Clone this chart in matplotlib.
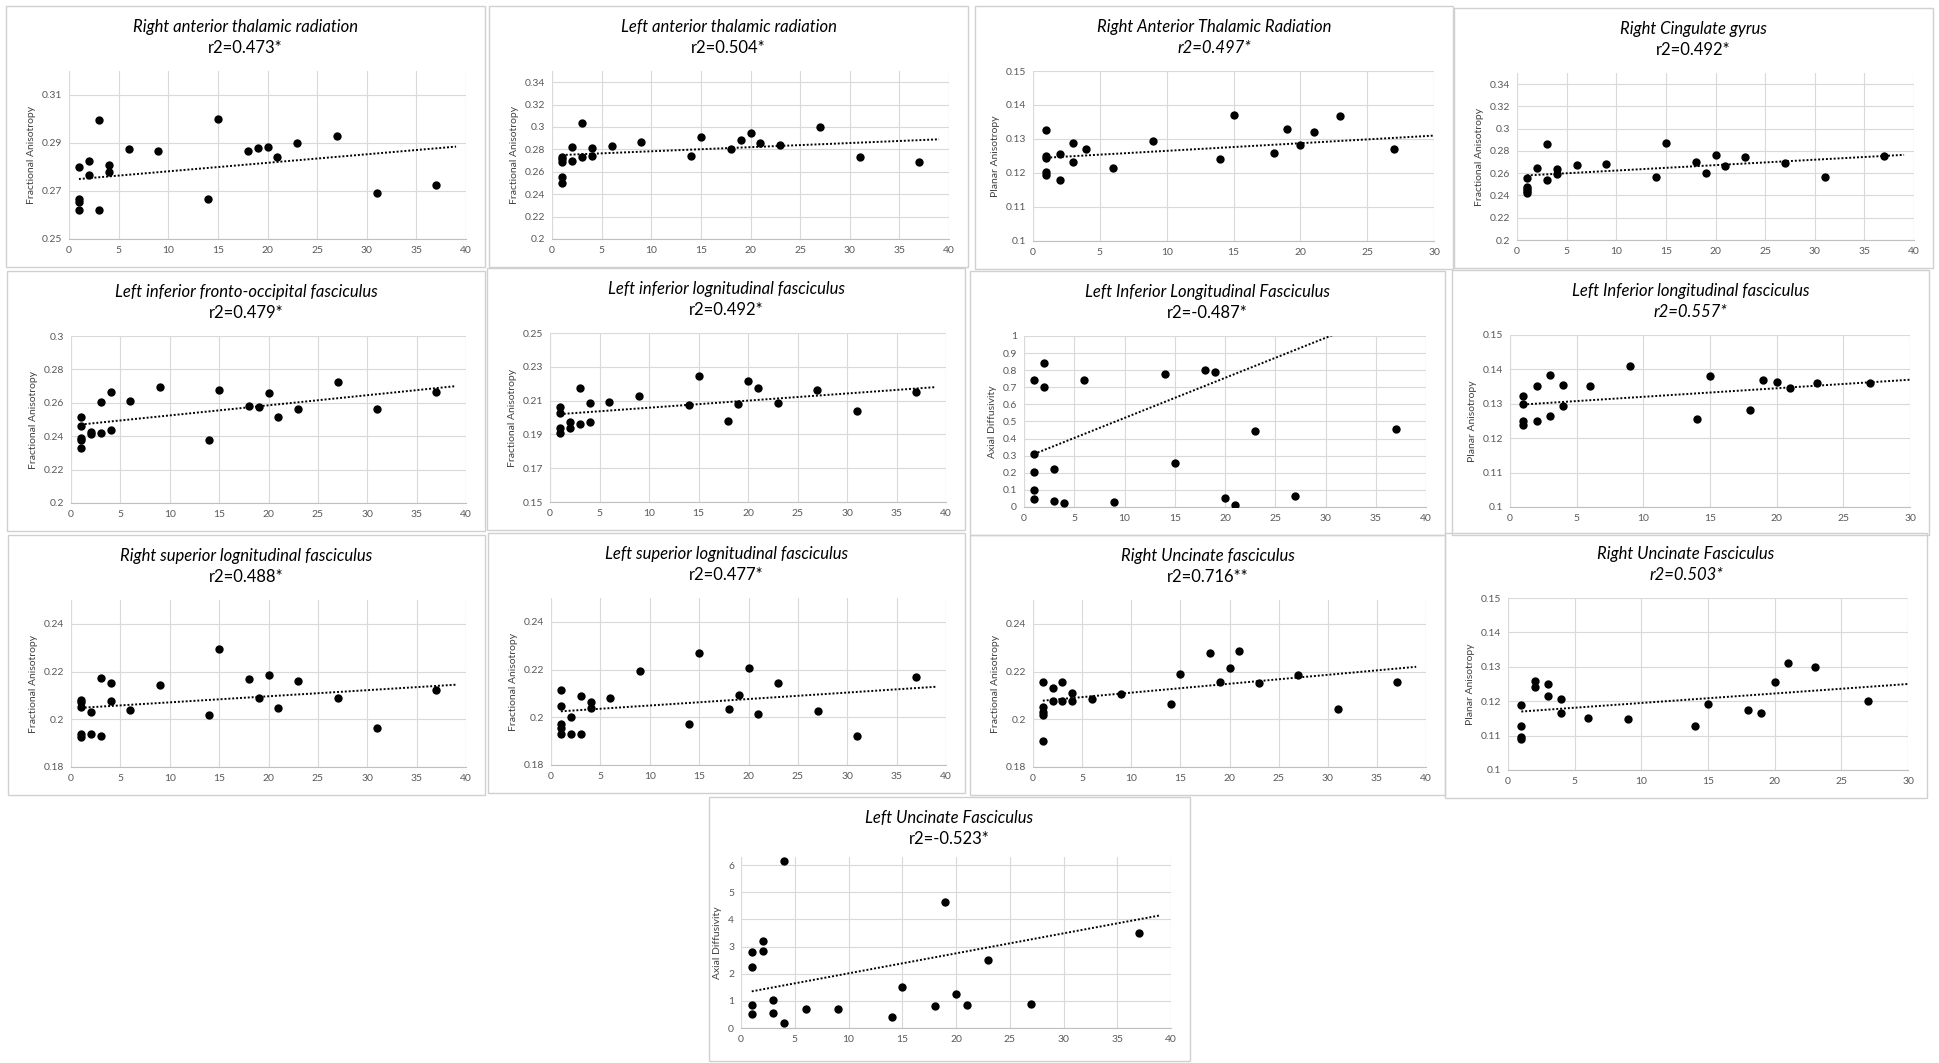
import numpy as np
import matplotlib
matplotlib.use("Agg")
import matplotlib.pyplot as plt
from matplotlib.patches import Rectangle

plt.rcParams['font.family'] = ['Lato', 'DejaVu Sans']

W, H = 1939, 1063

# ---- data ----
# 1 Right anterior thalamic radiation (FA)
x1 = [1, 1, 1, 1, 2, 2, 3, 3, 4, 4, 6, 9, 14, 15, 18, 19, 20, 21, 23, 27, 31, 37]
y1 = [0.280, 0.2665, 0.2655, 0.262, 0.2825, 0.2765, 0.2995, 0.262, 0.281, 0.278, 0.2875,
      0.2865, 0.2665, 0.300, 0.2865, 0.288, 0.2885, 0.284, 0.290, 0.293, 0.269, 0.2725]
# 2 Left anterior thalamic radiation (FA)
x2 = [1, 1, 1, 1, 1, 2, 2, 3, 3, 4, 4, 6, 9, 14, 15, 18, 19, 20, 21, 23, 27, 31, 37]
y2 = [0.273, 0.271, 0.269, 0.255, 0.250, 0.282, 0.270, 0.304, 0.273, 0.281, 0.274, 0.283,
      0.287, 0.274, 0.291, 0.280, 0.288, 0.295, 0.286, 0.284, 0.300, 0.273, 0.269]
# 3 Right Anterior Thalamic Radiation (PA)
x3 = [1, 1, 1, 1, 1, 2, 2, 3, 3, 4, 6, 9, 14, 15, 18, 19, 20, 21, 23, 27]
y3 = [0.1325, 0.125, 0.1245, 0.1202, 0.1193, 0.1255, 0.118, 0.1288, 0.1233, 0.127, 0.1215,
      0.1293, 0.1242, 0.137, 0.1258, 0.133, 0.1283, 0.1322, 0.1367, 0.127]
# 4 Right Cingulate gyrus (FA)
x4 = [1, 1, 1, 1, 1, 2, 3, 3, 4, 4, 6, 9, 14, 15, 18, 19, 20, 21, 23, 27, 31, 37]
y4 = [0.256, 0.248, 0.246, 0.244, 0.2425, 0.265, 0.2865, 0.2535, 0.2635, 0.259, 0.2675,
      0.2685, 0.257, 0.287, 0.270, 0.260, 0.2765, 0.2665, 0.275, 0.2695, 0.2565, 0.2755]
# 5 Left inferior fronto-occipital fasciculus (FA)
x5 = [1, 1, 1, 1, 1, 2, 2, 3, 3, 4, 4, 6, 9, 14, 15, 18, 19, 20, 21, 23, 27, 31, 37]
y5 = [0.2515, 0.246, 0.239, 0.238, 0.233, 0.2425, 0.2415, 0.2605, 0.242, 0.2665, 0.244,
      0.261, 0.2695, 0.2375, 0.2675, 0.258, 0.2575, 0.266, 0.2515, 0.256, 0.2725, 0.2565, 0.2665]
# 6 Left inferior lognitudinal fasciculus (FA)
x6 = [1, 1, 1, 1, 2, 2, 3, 3, 4, 4, 6, 9, 14, 15, 18, 19, 20, 21, 23, 27, 31, 37]
y6 = [0.2065, 0.2025, 0.194, 0.191, 0.1975, 0.194, 0.2175, 0.196, 0.2085, 0.1975, 0.209,
      0.2125, 0.2075, 0.2245, 0.198, 0.208, 0.2215, 0.2175, 0.2085, 0.2165, 0.204, 0.215]
# 7 Left Inferior Longitudinal Fasciculus (AD)
x7 = [1, 1, 1, 1, 1, 2, 2, 3, 3, 4, 6, 9, 14, 15, 18, 19, 20, 21, 23, 27, 37]
y7 = [0.74, 0.31, 0.205, 0.10, 0.045, 0.84, 0.70, 0.225, 0.035, 0.025, 0.74, 0.03, 0.775,
      0.26, 0.80, 0.79, 0.055, 0.01, 0.445, 0.065, 0.455]
# 8 Left Inferior longitudinal fasciculus (PA)
x8 = [1, 1, 1, 1, 2, 2, 3, 3, 4, 4, 6, 9, 14, 15, 18, 19, 20, 21, 23, 27]
y8 = [0.1323, 0.1298, 0.125, 0.1237, 0.1353, 0.125, 0.1384, 0.1265, 0.1355, 0.1293, 0.1353,
      0.141, 0.1255, 0.138, 0.1282, 0.1368, 0.1364, 0.1347, 0.136, 0.136]
# 9 Right superior lognitudinal fasciculus (FA)
x9 = [1, 1, 1, 1, 1, 2, 2, 3, 3, 4, 4, 6, 9, 14, 15, 18, 19, 20, 21, 23, 27, 31, 37]
y9 = [0.208, 0.2072, 0.205, 0.194, 0.1925, 0.203, 0.194, 0.2175, 0.193, 0.2153, 0.2075,
      0.204, 0.2143, 0.2017, 0.2293, 0.217, 0.209, 0.2185, 0.2047, 0.216, 0.209, 0.1965, 0.2123]
# 10 Left superior lognitudinal fasciculus (FA)
x10 = [1, 1, 1, 1, 1, 2, 2, 3, 3, 4, 4, 6, 9, 14, 15, 18, 19, 20, 21, 23, 27, 31, 37]
y10 = [0.2115, 0.2047, 0.1973, 0.1957, 0.1928, 0.2002, 0.1928, 0.2088, 0.193, 0.2065, 0.2038,
       0.208, 0.2195, 0.1972, 0.227, 0.2035, 0.2093, 0.2205, 0.2015, 0.2142, 0.2028, 0.1923, 0.2167]
# 11 Right Uncinate fasciculus (FA)
x11 = [1, 1, 1, 1, 1, 2, 2, 3, 3, 4, 4, 6, 9, 14, 15, 18, 19, 20, 21, 23, 27, 31, 37]
y11 = [0.2157, 0.2052, 0.2030, 0.2018, 0.1910, 0.2130, 0.2075, 0.2157, 0.2078, 0.2112, 0.2075,
       0.2083, 0.2108, 0.2065, 0.2190, 0.2277, 0.2157, 0.2215, 0.2287, 0.2153, 0.2187, 0.2045, 0.2155]
# 12 Right Uncinate Fasciculus (PA)
x12 = [1, 1, 1, 1, 2, 2, 3, 3, 4, 4, 6, 9, 14, 15, 18, 19, 20, 21, 23, 27]
y12 = [0.119, 0.1128, 0.1095, 0.109, 0.126, 0.124, 0.125, 0.1215, 0.1205, 0.1165, 0.1152,
       0.1147, 0.1127, 0.1193, 0.1175, 0.1166, 0.1256, 0.1312, 0.1298, 0.120]
# 13 Left Uncinate Fasciculus (AD)
x13 = [1, 1, 1, 1, 2, 2, 3, 3, 4, 4, 6, 9, 14, 15, 18, 19, 20, 21, 23, 27, 37]
y13 = [2.8, 2.25, 0.85, 0.5, 3.2, 2.85, 1.05, 0.55, 6.15, 0.2, 0.7, 0.7, 0.4, 1.5, 0.8, 4.65,
       1.25, 0.85, 2.5, 0.9, 3.5]

titles = ["Right anterior thalamic radiation", "Left anterior thalamic radiation",
          "Right Anterior Thalamic Radiation", "Right Cingulate gyrus",
          "Left inferior fronto-occipital fasciculus", "Left inferior lognitudinal fasciculus",
          "Left Inferior Longitudinal Fasciculus", "Left Inferior longitudinal fasciculus",
          "Right superior lognitudinal fasciculus", "Left superior lognitudinal fasciculus",
          "Right Uncinate fasciculus", "Right Uncinate Fasciculus", "Left Uncinate Fasciculus"]
r2_labels = ["r2=0.473*", "r2=0.504*", "r2=0.497*", "r2=0.492*", "r2=0.479*", "r2=0.492*",
             "r2=-0.487*", "r2=0.557*", "r2=0.488*", "r2=0.477*", "r2=0.716**", "r2=0.503*",
             "r2=-0.523*"]
r2_italic = [False, False, True, False, False, False, False, True, False, False, False, True, False]
ylabels = ["Fractional Anisotropy", "Fractional Anisotropy", "Planar Anisotropy",
           "Fractional Anisotropy", "Fractional Anisotropy", "Fractional Anisotropy",
           "Axial Diffusivity", "Planar Anisotropy", "Fractional Anisotropy",
           "Fractional Anisotropy", "Fractional Anisotropy", "Planar Anisotropy", "Axial Diffusivity"]
# axis ranges: (ymin, ymax, ystep, xmax)
yranges = [(0.25, 0.32, 0.02, 40), (0.2, 0.35, 0.02, 40), (0.1, 0.15, 0.01, 30),
           (0.2, 0.35, 0.02, 40), (0.2, 0.3, 0.02, 40), (0.15, 0.25, 0.02, 40),
           (0.0, 1.0, 0.1, 40), (0.1, 0.15, 0.01, 30), (0.18, 0.25, 0.02, 40),
           (0.18, 0.25, 0.02, 40), (0.18, 0.25, 0.02, 40), (0.1, 0.15, 0.01, 30),
           (0.0, 6.3, 1.0, 40)]
# trend line end points (x0, y0, x1, y1)
trends = [(1, 0.275, 39, 0.2885), (1, 0.275, 39, 0.289), (1, 0.1245, 30, 0.131),
          (1, 0.258, 39, 0.2765), (1, 0.247, 39, 0.270), (1, 0.202, 39, 0.218),
          (1, 0.31, 39, 1.20), (1, 0.1298, 30, 0.137), (1, 0.2048, 39, 0.2145),
          (1, 0.2025, 39, 0.2128), (1, 0.2078, 39, 0.222), (1, 0.117, 30, 0.125),
          (1, 1.35, 39, 4.15)]

xs = [x1, x2, x3, x4, x5, x6, x7, x8, x9, x10, x11, x12, x13]
ys = [y1, y2, y3, y4, y5, y6, y7, y8, y9, y10, y11, y12, y13]

# ---- layout (pixels): panel boxes and left offset of plot area ----
boxes = [(6, 6, 485, 267), (489, 6, 968, 267), (975, 6, 1453, 269), (1454, 8, 1933, 268),
         (7, 271, 485, 531), (487, 268, 965, 530), (970, 271, 1445, 535), (1452, 270, 1929, 535),
         (8, 535, 485, 795), (488, 533, 965, 793), (970, 535, 1445, 795), (1445, 533, 1927, 798),
         (709, 797, 1190, 1061)]
left_off = [63, 63, 58, 63, 64, 63, 54, 58, 63, 63, 63, 63, 32]

fig = plt.figure(figsize=(W / 100, H / 100), dpi=100)
fig.patch.set_facecolor("white")


def fx(px):
    return px / W


def fy(py):
    return 1 - py / H


def fmt(v):
    return f"{round(v, 4):g}"


for i in range(13):
    bx0, by0, bx1, by1 = boxes[i]
    fig.patches.append(Rectangle((fx(bx0), fy(by1)), fx(bx1 - bx0), (by1 - by0) / H,
                                 transform=fig.transFigure, fill=False,
                                 edgecolor="#d0d0d0", linewidth=1.0))
    top_off = 65
    bot_off = 28
    if i == 12:
        top_off = 60
        bot_off = 33
    ax0 = bx0 + left_off[i]
    ax1 = bx1 - 19
    ay0 = by0 + top_off
    ay1 = by1 - bot_off
    ax = fig.add_axes([fx(ax0), fy(ay1), fx(ax1 - ax0), (ay1 - ay0) / H])

    ymin, ymax, ystep, xmax = yranges[i]
    ax.set_xlim(0, xmax)
    ax.set_ylim(ymin, ymax)
    xt = np.arange(0, xmax + 0.1, 5)
    yt = np.arange(ymin, ymax + 1e-9, ystep)
    ax.set_xticks(xt)
    ax.set_xticklabels([fmt(v) for v in xt])
    ax.set_yticks(yt)
    ax.set_yticklabels([fmt(v) for v in yt])
    ax.tick_params(length=0, labelsize=7.5, labelcolor="#595959", pad=5)
    ax.grid(True, color="#d9d9d9", linewidth=0.8)
    ax.set_axisbelow(True)
    for s in ["top", "right", "left"]:
        ax.spines[s].set_visible(False)
    ax.spines["bottom"].set_color("#bfbfbf")
    # vertical lines at both ends of the x range
    ax.axvline(0, color="#d9d9d9", linewidth=0.8, zorder=0)
    ax.axvline(xmax, color="#d9d9d9", linewidth=0.8, zorder=0)

    ax.scatter(xs[i], ys[i], s=36, color="black", zorder=3, linewidths=0)
    tx0, ty0, tx1, ty1 = trends[i]
    ax.plot([tx0, tx1], [ty0, ty1], color="black", linestyle=(0, (1, 1)), linewidth=1.4, zorder=2)
    ax.set_ylabel(ylabels[i], fontsize=7.5, color="#404040", labelpad=4)

    cx = fx((bx0 + bx1) / 2)
    fig.text(cx, fy(by0 + 21), titles[i], ha="center", va="center", fontsize=12,
             style="italic", color="black")
    fig.text(cx, fy(by0 + 42), r2_labels[i], ha="center", va="center", fontsize=12,
             style="italic" if r2_italic[i] else "normal", color="black")

fig.savefig("out.png", dpi=100, facecolor="white")
